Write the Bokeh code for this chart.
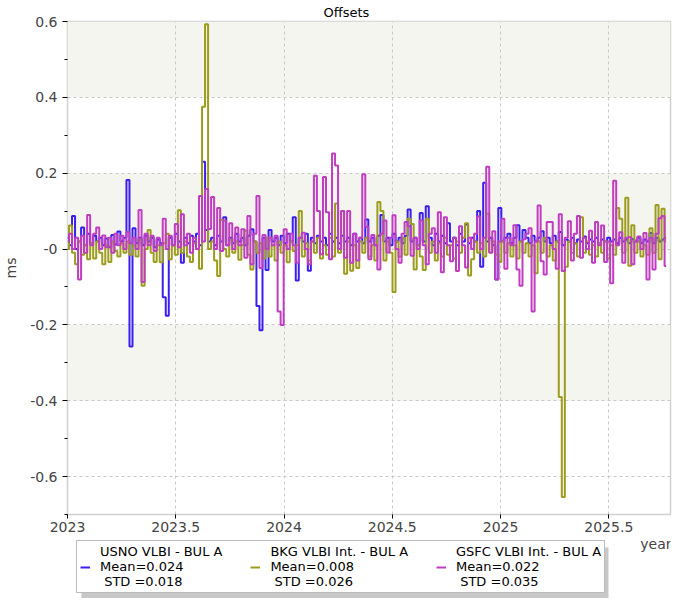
import numpy as np
from bokeh.plotting import figure
from bokeh.layouts import column
from bokeh.models import FixedTicker, Legend, LegendItem, Range1d, Label, Grid, BoxAnnotation
from bokeh.embed import file_html
from bokeh.resources import INLINE

# ---------------- data ----------------
series_names = ["USNO VLBI - BUL A", "BKG VLBI Int. - BUL A", "GSFC VLBI Int. - BUL A"]
series_means = [0.024, 0.008, 0.022]
series_stds = [0.018, 0.026, 0.035]
series_colors = ["#3c1ef0", "#9c9c1e", "#c03cc0"]

start_year = 2023.0
sample_step_days = 5.1

usno = [
    0.03, 0.01, 0.087, 0.0, 0.02, 0.057, 0.01, 0.04, 0.015, 0.035,
    0.02, 0.03, 0.01, 0.028, 0.005, 0.037, 0.012, 0.046, 0.02, 0.03,
    0.182, -0.257, 0.055, 0.015, 0.03, 0.01, 0.035, 0.02, 0.03, 0.005,
    0.025, 0.015, -0.127, -0.176, 0.03, 0.01, 0.04, 0.02, -0.036, 0.03,
    0.015, 0.035, 0.02, 0.04, 0.01, 0.23, 0.05, 0.02, 0.03, 0.01,
    0.035, 0.02, 0.084, 0.01, 0.03, 0.015, 0.04, 0.02, 0.03, 0.01,
    0.035, 0.052, 0.02, -0.15, -0.214, 0.03, -0.055, 0.05, 0.02, 0.03,
    0.01, 0.035, 0.015, 0.04, 0.02, 0.084, -0.083, 0.03, 0.02, 0.04,
    -0.057, 0.03, 0.015, 0.035, 0.02, 0.03, 0.01, 0.04, 0.02, 0.03,
    0.015, 0.035, 0.02, 0.03, 0.01, 0.04, 0.02, 0.03, 0.015, 0.078,
    0.02, 0.03, 0.01, 0.035, 0.09, 0.02, 0.03, 0.01, 0.04, 0.02,
    0.03, 0.015, 0.035, 0.104, 0.02, 0.03, 0.01, 0.095, 0.02, 0.113,
    0.03, 0.01, 0.04, 0.02, 0.035, 0.015, 0.068, 0.02, 0.03, 0.01,
    0.04, 0.02, 0.065, 0.015, 0.03, 0.02, 0.1, -0.047, 0.175, 0.02,
    0.03, 0.01, -0.08, 0.108, 0.02, 0.03, 0.04, 0.015, 0.03, 0.063,
    0.02, 0.05, 0.03, 0.015, 0.035, 0.02, 0.03, 0.047, 0.02, 0.03,
    0.015, 0.035, 0.02, 0.045, 0.01, 0.025, 0.02, 0.03, 0.015, 0.025,
    0.02, 0.033, 0.015, 0.025, 0.02, 0.03, 0.015, 0.025, 0.02, 0.03,
    0.02, 0.025, 0.015, 0.03, 0.02, 0.025, 0.015, 0.026, 0.02, 0.03,
    0.015, 0.025, 0.02, 0.042, 0.015, 0.03, 0.02, 0.025, 0.03,
]

bkg = [
    0.0, 0.062, -0.01, -0.04, 0.02, -0.015, 0.01, -0.027, 0.015, -0.025,
    0.02, -0.01, -0.04, 0.01, -0.034, 0.02, -0.005, -0.02, 0.015, -0.01,
    0.02, -0.015, 0.01, -0.02, 0.025, -0.097, 0.0, 0.05, -0.01, -0.034,
    0.01, -0.035, 0.015, 0.04, -0.027, 0.01, -0.015, 0.102, -0.01, 0.02,
    -0.02, -0.034, 0.015, 0.0, -0.052, 0.375, 0.593, 0.0, 0.02, -0.03,
    -0.071, 0.077, 0.0, -0.02, 0.025, -0.01, 0.02, -0.028, 0.01, 0.049,
    -0.015, -0.054, 0.02, -0.01, 0.015, -0.025, 0.03, -0.02, 0.01, -0.03,
    0.02, -0.01, 0.01, -0.035, 0.02, -0.005, 0.01, 0.1, -0.02, 0.015,
    -0.03, 0.02, -0.01, 0.03, -0.025, 0.01, -0.015, 0.03, -0.02, 0.12,
    -0.01, 0.1, -0.065, 0.02, -0.057, 0.01, -0.05, 0.02, -0.01, 0.03,
    -0.02, 0.01, -0.03, 0.124, 0.1, -0.03, 0.02, -0.01, -0.113, 0.02,
    -0.02, 0.03, -0.015, 0.08, 0.066, -0.054, 0.01, -0.02, -0.055, 0.08,
    -0.01, 0.02, -0.03, 0.015, -0.02, 0.03, -0.015, 0.01, -0.025, 0.02,
    -0.01, 0.03, 0.068, -0.07, -0.027, 0.02, -0.01, 0.015, -0.02, 0.093,
    -0.01, 0.02, -0.015, -0.034, 0.02, -0.01, 0.015, -0.02, 0.01, -0.025,
    0.02, -0.01, 0.015, -0.02, 0.01, -0.064, 0.02, -0.01, 0.03, -0.02,
    0.01, -0.03, 0.02, -0.39, -0.654, -0.047, 0.02, -0.01, 0.015, -0.02,
    0.084, -0.01, 0.02, -0.015, 0.01, -0.02, 0.015, -0.01, 0.02, -0.025,
    0.01, -0.015, 0.108, 0.08, -0.01, 0.135, -0.044, 0.063, -0.01, 0.02,
    -0.02, 0.01, -0.015, 0.055, -0.01, 0.116, -0.027, 0.106, 0.02,
]

gsfc = [
    0.02, 0.04, 0.0, 0.03, -0.08, 0.035, -0.01, 0.09, 0.01, 0.04,
    0.057, 0.0, 0.036, 0.005, 0.03, -0.01, 0.04, 0.01, 0.035, 0.0,
    0.045, 0.015, 0.03, 0.0, 0.103, -0.087, 0.04, 0.01, 0.035, -0.005,
    0.03, 0.01, 0.08, 0.0, 0.035, 0.01, 0.066, 0.005, 0.092, 0.01,
    0.04, -0.01, 0.03, 0.0, 0.14, 0.02, 0.158, 0.053, 0.137, 0.0,
    0.108, -0.005, 0.075, 0.01, 0.068, 0.0, 0.057, 0.01, 0.052, -0.023,
    0.087, -0.04, 0.04, 0.14, -0.05, 0.037, 0.0, 0.03, 0.01, 0.035,
    -0.165, -0.2, 0.052, 0.0, 0.04, 0.01, -0.036, 0.03, 0.043, 0.0,
    -0.04, 0.02, 0.193, 0.1, -0.014, 0.19, 0.097, -0.027, 0.252, 0.22,
    0.0, 0.1, -0.023, 0.1, -0.036, 0.04, -0.03, 0.03, 0.197, 0.059,
    -0.027, 0.037, 0.01, -0.054, 0.04, 0.075, -0.009, 0.03, 0.089, 0.0,
    -0.036, 0.04, 0.071, 0.06, -0.018, 0.03, 0.0, 0.075, 0.01, -0.04,
    0.04, 0.055, -0.01, 0.097, -0.061, 0.084, 0.01, -0.032, 0.03, -0.058,
    0.06, 0.01, -0.049, 0.03, 0.0, 0.04, 0.086, 0.0, 0.03, 0.217,
    -0.009, 0.047, -0.08, 0.02, 0.08, -0.052, 0.03, 0.01, 0.063, -0.054,
    -0.097, 0.026, 0.04, 0.055, -0.165, 0.02, 0.115, -0.032, -0.067, 0.071,
    0.071, 0.0, -0.052, 0.092, -0.058, 0.03, 0.073, -0.03, 0.04, 0.087,
    -0.023, 0.03, 0.0, 0.048, -0.036, 0.071, 0.01, 0.062, -0.034, 0.02,
    -0.09, 0.18, 0.01, 0.044, -0.036, 0.03, 0.031, -0.04, 0.02, 0.033,
    0.0, 0.042, -0.08, 0.03, -0.054, 0.04, 0.081, 0.087, -0.045,
]

years = start_year + np.arange(len(usno)) * sample_step_days / 365.25

x_ticks = [2023.0, 2023.5, 2024.0, 2024.5, 2025.0, 2025.5]
x_tick_labels = ["2023", "2023.5", "2024", "2024.5", "2025", "2025.5"]
y_ticks = [-0.6, -0.4, -0.2, 0.0, 0.2, 0.4, 0.6]
y_tick_labels = ["-0.6", "-0.4", "-0.2", "-0", "0.2", "0.4", "0.6"]
y_minor_ticks = [-0.7, -0.5, -0.3, -0.1, 0.1, 0.3, 0.5]
band_edges = [-0.4, -0.2, 0.0, 0.2, 0.4, 0.6]

FONT = "DejaVu Sans"
W = 688
LEFT, RIGHT = 65, 18
FRAME_W = W - LEFT - RIGHT

# ---------------- main figure ----------------
p = figure(
    width=W, height=534,
    x_range=Range1d(2023.0, 2025.785), y_range=Range1d(-0.7, 0.6),
    output_backend="svg", toolbar_location=None,
    title="Offsets",
    min_border_left=LEFT, min_border_right=RIGHT, min_border_top=21, min_border_bottom=0,
)
p.background_fill_color = "white"
p.border_fill_color = "white"
p.outline_line_color = "#d0d0d0"
p.outline_line_width = 1.5

p.title.text_font = FONT
p.title.text_font_size = "13px"
p.title.text_font_style = "normal"
p.title.text_color = "black"
p.title.align = "left"
p.title.offset = 256
p.title.standoff = 4

x_ticker = FixedTicker(ticks=x_ticks)
y_ticker = FixedTicker(ticks=y_ticks, minor_ticks=y_minor_ticks)
p.xaxis.ticker = x_ticker
p.xaxis.major_label_overrides = dict(zip(x_ticks, x_tick_labels))
p.yaxis.ticker = y_ticker
p.yaxis.major_label_overrides = dict(zip(y_ticks, y_tick_labels))

for ax in (p.xaxis[0], p.yaxis[0]):
    ax.axis_line_color = None
    ax.major_tick_line_color = "black"
    ax.major_tick_out = 5
    ax.major_tick_in = 0
    ax.minor_tick_line_color = "black"
    ax.minor_tick_out = 3
    ax.minor_tick_in = 0
    ax.major_label_text_font = FONT
    ax.major_label_text_font_size = "14px"
    ax.major_label_text_color = "#444444"
    ax.major_label_standoff = 5
    ax.axis_label_text_font = FONT
    ax.axis_label_text_font_size = "14px"
    ax.axis_label_text_font_style = "normal"
    ax.axis_label_text_color = "#444444"

p.xaxis.major_tick_out = 4
p.xaxis.major_label_standoff = 3
p.xaxis.minor_tick_line_color = None
p.yaxis.axis_label = "ms"
p.yaxis.axis_label_standoff = 8

# alternating bands (no lines), then dashed grid lines on top
p.xgrid.grid_line_color = None
p.ygrid.grid_line_color = None
p.ygrid.ticker = FixedTicker(ticks=band_edges)
p.ygrid.band_fill_color = "#f5f5f0"
p.ygrid.band_fill_alpha = 1.0
for dim, tk in ((0, x_ticker), (1, y_ticker)):
    p.add_layout(Grid(dimension=dim, ticker=tk, grid_line_color="#c8c8c8",
                      grid_line_dash="3 3", grid_line_width=1))

for vals, color in zip([usno, bkg, gsfc], series_colors):
    p.step(years, vals, line_color=color, line_width=2.0, mode="center")

# ---------------- legend strip ----------------
LF_H = 64
lf = figure(
    width=W, height=LF_H,
    x_range=Range1d(0, 1), y_range=Range1d(0, 1),
    output_backend="svg", toolbar_location=None,
    x_axis_location=None, y_axis_location=None,
    min_border=0, min_border_left=LEFT, min_border_right=RIGHT,
)
lf.outline_line_color = None
lf.grid.visible = False
lf.background_fill_color = "white"
lf.border_fill_color = "white"

# drop shadow behind the legend box
lf.add_layout(BoxAnnotation(
    left=14, right=541, bottom=0, top=51,
    left_units="screen", right_units="screen", bottom_units="screen", top_units="screen",
    fill_color="#9a9a9a", fill_alpha=0.55, line_color=None,
))

# legend-only proxies (a single undefined point: nothing is drawn in the strip)
items = []
for name, m, s, color in zip(series_names, series_means, series_stds, series_colors):
    r = lf.line(x=np.array([np.nan]), y=np.array([np.nan]), line_color=color, line_width=2)
    label = f"{name}\nMean={m:.3f}\n STD ={s:.3f}"
    items.append(LegendItem(label=label, renderers=[r]))

legend = Legend(items=items, orientation="horizontal", location=(9, 5))
legend.margin = 0
legend.padding = 3
legend.spacing = 28
legend.glyph_width = 10
legend.label_standoff = 10
legend.label_text_font = FONT
legend.label_text_font_size = "13px"
legend.label_text_line_height = 0.95
legend.label_text_color = "black"
legend.border_line_color = "#7a7a7a"
legend.border_line_width = 1.5
legend.background_fill_color = "white"
legend.background_fill_alpha = 1.0
lf.add_layout(legend, "center")

lf.add_layout(Label(
    x=FRAME_W - 1, y=LF_H - 1, x_units="screen", y_units="screen", text="year",
    text_align="right", text_baseline="top",
    text_font=FONT, text_font_size="14px", text_color="#444444",
))

layout = column(p, lf, spacing=0)
open("out.html", "w").write(file_html(layout, INLINE))
